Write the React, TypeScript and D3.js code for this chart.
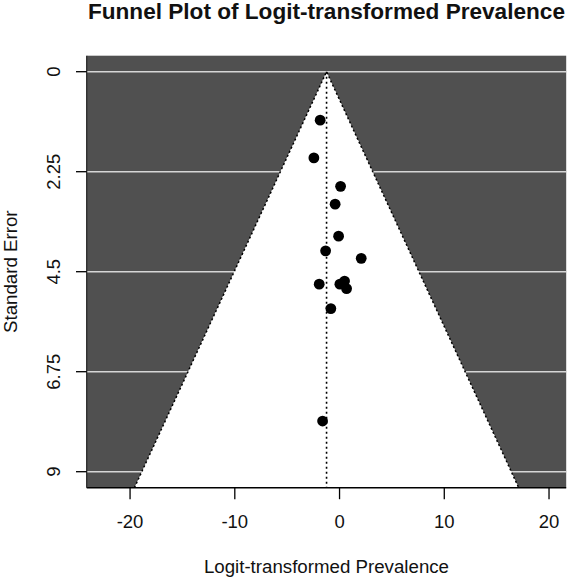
import { useEffect, useRef } from "react";
import * as d3 from "d3";

// logit-transformed prevalence and standard error of each study
const logitValues = [-1.85, -2.45, 0.1, -0.42, -0.09, -1.33, 2.07, -1.94, 0.03, 0.48, 0.67, -0.83, -1.62];
const seValues = [1.09, 1.94, 2.58, 2.98, 3.7, 4.03, 4.2, 4.78, 4.78, 4.71, 4.88, 5.33, 7.86];

const pooledEstimate = -1.24;
const xTicks = [-20, -10, 0, 10, 20];
const yTicks = [0, 2.25, 4.5, 6.75, 9];
const xLimits: [number, number] = [-24.14, 21.64];
const yLimits: [number, number] = [0, 9];

const FONT = "'Liberation Sans', Arial, Helvetica, sans-serif";

const FunnelPlot = () => {
  const svgRef = useRef<SVGSVGElement | null>(null);

  useEffect(() => {
    if (!svgRef.current) return;

    const width = 567;
    const height = 579;
    const margin = { top: 55.7, right: 0.8, bottom: 91.3, left: 86.7 };

    const svg = d3.select(svgRef.current);
    svg.selectAll("*").remove();
    svg.attr("width", width).attr("height", height).attr("viewBox", `0 0 ${width} ${height}`);

    const yPad = (yLimits[1] - yLimits[0]) * 0.04;
    const yMax = yLimits[1] + yPad;

    const x = d3.scaleLinear().domain(xLimits).range([margin.left, width - margin.right]);
    const y = d3
      .scaleLinear()
      .domain([yLimits[0] - yPad, yMax])
      .range([margin.top, height - margin.bottom]);

    const left = x.range()[0];
    const right = x.range()[1];
    const top = y.range()[0];
    const bottom = y.range()[1];

    // dark background
    svg
      .append("rect")
      .attr("x", left)
      .attr("y", top)
      .attr("width", right - left)
      .attr("height", bottom - top)
      .attr("fill", "#505050");

    // grid lines
    svg
      .append("g")
      .selectAll("line")
      .data(yTicks)
      .join("line")
      .attr("x1", left)
      .attr("x2", right)
      .attr("y1", (d) => y(d))
      .attr("y2", (d) => y(d))
      .attr("stroke", "#d6d6d6")
      .attr("stroke-width", 1.5);

    // pseudo confidence region
    const funnel: [number, number][] = [
      [pooledEstimate - 1.96 * yMax, yMax],
      [pooledEstimate, 0],
      [pooledEstimate + 1.96 * yMax, yMax],
    ];
    const funnelLine = d3
      .line<[number, number]>()
      .x((d) => x(d[0]))
      .y((d) => y(d[1]));

    svg.append("path").datum(funnel).attr("fill", "white").attr("stroke", "none").attr("d", funnelLine);

    svg
      .append("path")
      .datum(funnel)
      .attr("fill", "none")
      .attr("stroke", "#000")
      .attr("stroke-width", 1.5)
      .attr("stroke-dasharray", "2,2.5")
      .attr("d", funnelLine);

    // pooled estimate line
    svg
      .append("line")
      .attr("x1", x(pooledEstimate))
      .attr("x2", x(pooledEstimate))
      .attr("y1", y(0))
      .attr("y2", bottom)
      .attr("stroke", "#000")
      .attr("stroke-width", 1.6)
      .attr("stroke-dasharray", "2,3");

    // studies
    svg
      .append("g")
      .selectAll("circle")
      .data(logitValues.map((v, i) => ({ v, se: seValues[i] })))
      .join("circle")
      .attr("cx", (d) => x(d.v))
      .attr("cy", (d) => y(d.se))
      .attr("r", 5.4)
      .attr("fill", "#000");

    // axes lines
    svg
      .append("line")
      .attr("x1", left)
      .attr("x2", right)
      .attr("y1", bottom)
      .attr("y2", bottom)
      .attr("stroke", "#000")
      .attr("stroke-width", 1.5);
    svg
      .append("line")
      .attr("x1", left)
      .attr("x2", left)
      .attr("y1", top)
      .attr("y2", bottom)
      .attr("stroke", "#222")
      .attr("stroke-width", 1.2);

    // x axis
    const xAxis = svg.append("g").attr("font-family", FONT).attr("font-size", 18.5);
    xAxis
      .selectAll("line")
      .data(xTicks)
      .join("line")
      .attr("x1", (d) => x(d))
      .attr("x2", (d) => x(d))
      .attr("y1", bottom)
      .attr("y2", bottom + 11.5)
      .attr("stroke", "#000")
      .attr("stroke-width", 1.3);
    xAxis
      .selectAll("text")
      .data(xTicks)
      .join("text")
      .attr("x", (d) => x(d))
      .attr("y", bottom + 40.5)
      .attr("text-anchor", "middle")
      .attr("fill", "#111")
      .text((d) => String(d));

    // y axis
    const yAxis = svg.append("g").attr("font-family", FONT).attr("font-size", 18.5);
    yAxis
      .selectAll("line")
      .data(yTicks)
      .join("line")
      .attr("x1", left - 10.7)
      .attr("x2", left)
      .attr("y1", (d) => y(d))
      .attr("y2", (d) => y(d))
      .attr("stroke", "#000")
      .attr("stroke-width", 1.3);
    yAxis
      .selectAll("text")
      .data(yTicks)
      .join("text")
      .attr("transform", (d) => `translate(${left - 27}, ${y(d)}) rotate(-90)`)
      .attr("text-anchor", "middle")
      .attr("fill", "#111")
      .text((d) => String(d));

    // titles
    svg
      .append("text")
      .attr("x", (left + right) / 2)
      .attr("y", 19)
      .attr("text-anchor", "middle")
      .attr("font-family", FONT)
      .attr("font-weight", "bold")
      .attr("font-size", 22.6)
      .attr("fill", "#111")
      .text("Funnel Plot of Logit-transformed Prevalence");

    svg
      .append("text")
      .attr("x", (left + right) / 2)
      .attr("y", 572.5)
      .attr("text-anchor", "middle")
      .attr("font-family", FONT)
      .attr("font-size", 18.7)
      .attr("fill", "#111")
      .text("Logit-transformed Prevalence");

    svg
      .append("text")
      .attr("transform", `translate(17, ${(top + bottom) / 2}) rotate(-90)`)
      .attr("text-anchor", "middle")
      .attr("font-family", FONT)
      .attr("font-size", 18.7)
      .attr("fill", "#111")
      .text("Standard Error");
  }, []);

  return <svg ref={svgRef} style={{ position: "absolute", left: 0, top: 0, background: "#fff" }} />;
};

export default function App() {
  return <FunnelPlot />;
}
